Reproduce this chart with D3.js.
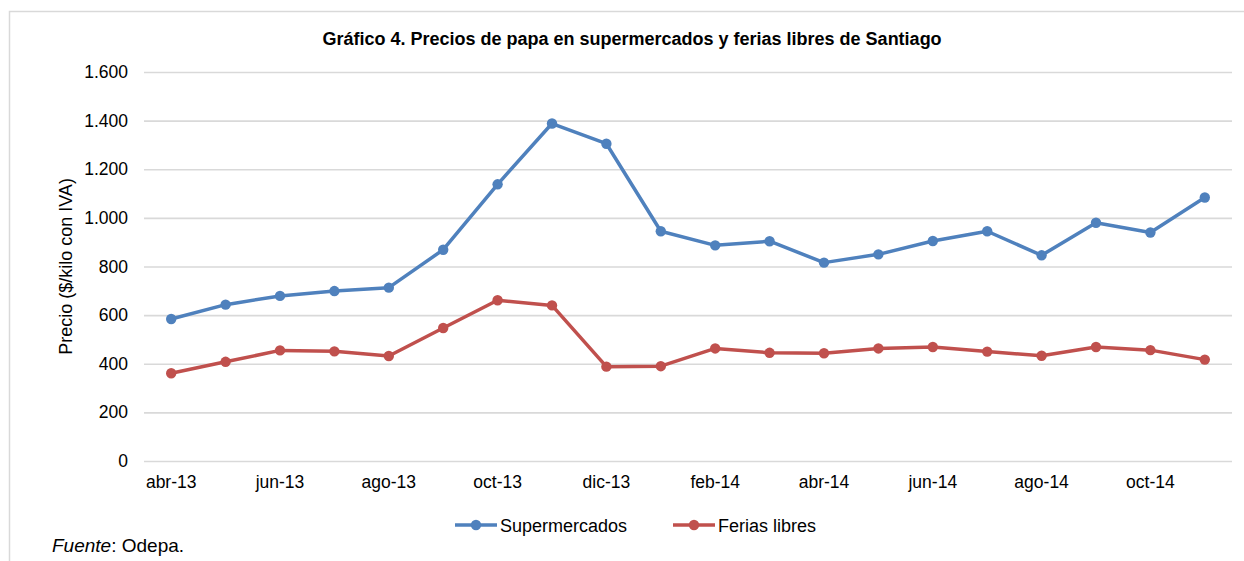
<!DOCTYPE html>
<html><head><meta charset="utf-8">
<script src="https://cdn.jsdelivr.net/npm/d3@7"></script>
<style>body{margin:0;background:#fff;}svg{display:block;font-family:"Liberation Sans",Arial,sans-serif;}</style>
</head><body><svg id="c" width="1244" height="561"></svg>
<script>
const months = ["abr-13","may-13","jun-13","jul-13","ago-13","sep-13","oct-13","nov-13","dic-13","ene-14","feb-14","mar-14","abr-14","may-14","jun-14","jul-14","ago-14","sep-14","oct-14","nov-14"];
const supermercados = [584,643,679,699,713,869,1138,1388,1305,945,887,904,816,850,905,945,846,980,940,1084];
const feriasLibres = [361,408,455,451,432,547,661,640,388,390,463,445,443,463,469,450,433,469,456,417];
const yTicks = [0,200,400,600,800,1000,1200,1400,1600];
const seriesNames = ["Supermercados","Ferias libres"];
const colors = ["#4f81bd","#c0504d"];

const svg = d3.select("#c");
const L = 144, R = 1232, T = 72, B = 461;
const x = d3.scaleBand().domain(months).range([L, R]);
const y = d3.scaleLinear().domain([0,1600]).range([B, T]);
const fmt = v => d3.format(",")(v).replace(/,/g, ".");
const FONT = "Liberation Sans, Arial, sans-serif";

// frame
svg.append("path").attr("d","M9.5,570 V11.5 H1250").attr("fill","none").attr("stroke","#d9d9d9").attr("stroke-width",1.5);

// title
svg.append("text").attr("x",632).attr("y",45).attr("text-anchor","middle")
  .attr("font-weight","bold").attr("font-size",18).attr("fill","#000")
  .text("Gráfico 4. Precios de papa en supermercados y ferias libres de Santiago");

// grid + y axis
const yAxis = d3.axisLeft(y).tickValues(yTicks).tickFormat(fmt).tickSize(-(R-L)).tickPadding(16);
const gy = svg.append("g").attr("transform",`translate(${L},0)`).call(yAxis);
gy.select(".domain").remove();
gy.selectAll(".tick line").attr("stroke","#d9d9d9").attr("stroke-width",1.6);
gy.selectAll(".tick text").attr("font-size",17.5).attr("fill","#000").attr("font-family",FONT);

// x axis
const xAxis = d3.axisBottom(x).tickValues(months.filter((d,i)=>i%2===0)).tickSize(0).tickPadding(15);
const gx = svg.append("g").attr("transform",`translate(0,${B})`).call(xAxis);
gx.select(".domain").remove();
gx.selectAll(".tick text").attr("font-size",17.5).attr("fill","#000").attr("font-family",FONT);

// y title
svg.append("text").attr("transform",`translate(72,${(T+B)/2}) rotate(-90)`).attr("text-anchor","middle")
  .attr("font-size",18).attr("fill","#000").text("Precio ($/kilo con IVA)");

// series
const data = [supermercados, feriasLibres];
const line = d3.line().x((d,i)=>x(months[i])+x.bandwidth()/2).y(d=>y(d));
data.forEach((s,k)=>{
  svg.append("path").datum(s).attr("d",line).attr("fill","none").attr("stroke",colors[k]).attr("stroke-width",3.5).attr("stroke-linejoin","round");
  svg.append("g").selectAll("circle").data(s).join("circle")
    .attr("cx",(d,i)=>x(months[i])+x.bandwidth()/2).attr("cy",d=>y(d)).attr("r",5.2).attr("fill",colors[k]);
});

// legend
const legX = [455, 673];
seriesNames.forEach((n,k)=>{
  const g = svg.append("g").attr("transform",`translate(${legX[k]},525)`);
  g.append("line").attr("x1",0).attr("x2",42).attr("stroke",colors[k]).attr("stroke-width",3.5);
  g.append("circle").attr("cx",21).attr("r",5.2).attr("fill",colors[k]);
  g.append("text").attr("x",45).attr("y",7).attr("font-size",18).attr("fill","#000").text(n);
});

// source
const src = svg.append("text").attr("x",52).attr("y",552).attr("font-size",19).attr("fill","#000");
src.append("tspan").attr("font-style","italic").text("Fuente");
src.append("tspan").text(": Odepa.");
</script></body></html>
